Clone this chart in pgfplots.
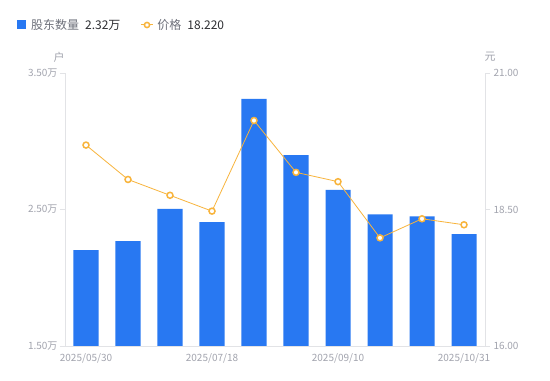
\documentclass[border=0pt]{standalone}
\usepackage{pgfplots}
\pgfplotsset{compat=1.18}
\usepackage{fontspec}
\setmainfont{Noto Sans CJK SC}
\definecolor{barblue}{HTML}{2878F2}
\definecolor{lineor}{HTML}{F8B43C}
\definecolor{axgray}{HTML}{E2E3E6}
\definecolor{lblgray}{HTML}{A2A4AE}
\definecolor{leggray}{HTML}{6E717B}
\definecolor{legdark}{HTML}{2E2F33}
\begin{document}
\begin{tikzpicture}
\path[use as bounding box, fill=white] (0,0) rectangle (550bp,381bp);
\begin{axis}[
  name=left,
  at={(65bp,35bp)}, anchor=south west, scale only axis,
  width=420bp, height=273bp,
  xmin=-0.5, xmax=9.5, ymin=1.5, ymax=3.5,
  axis x line*=bottom, axis y line*=left,
  axis line style={draw=axgray, line width=0.8bp, -},
  ytick={1.5,2.5,3.5}, yticklabels={1.50万,2.50万,3.50万},
  xtick={0,3,6,9}, xticklabels={2025/05/30,2025/07/18,2025/09/10,2025/10/31},
  x tick style={draw=none},
  y tick style={draw=axgray, line width=0.8bp},
  tick align=outside, major tick length=5bp,
  ticklabel style={font=\fontsize{10bp}{12bp}\selectfont, text=lblgray},
  yticklabel style={xshift=1bp},
  xticklabel style={yshift=1bp},
  legend style={at={(axis description cs:0,1)}, anchor=south west, xshift=-51bp, yshift=38bp,
    draw=none, fill=none, font=\fontsize{12bp}{14bp}\selectfont, legend columns=2,
    /tikz/every even column/.append style={column sep=18bp}},
  legend cell align=left,
]
\addplot[ybar, bar width=25bp, fill=barblue, draw=none,
  legend image code/.code={\fill[barblue] (0bp,-4.5bp) rectangle (9bp,4.5bp);}] coordinates {
  (0,2.203) (1,2.269) (2,2.504) (3,2.408) (4,3.310)
  (5,2.899) (6,2.643) (7,2.465) (8,2.450) (9,2.320)};
\addlegendentry{\hspace{3bp}\textcolor{leggray}{股东数量}\hspace{6bp}\textcolor{legdark}{2.32万}}
\addlegendimage{legend image code/.code={
  \draw[lineor, line width=1bp] (0bp,0bp) -- (12bp,0bp);
  \draw[lineor, line width=1.5bp, fill=white] (6bp,0bp) circle (2.6bp);}}
\addlegendentry{\hspace{2bp}\textcolor{leggray}{价格}\hspace{6bp}\textcolor{legdark}{18.220}}
\end{axis}
\begin{axis}[
  name=right,
  at={(65bp,35bp)}, anchor=south west, scale only axis,
  width=420bp, height=273bp,
  xmin=-0.5, xmax=9.5, ymin=16, ymax=21,
  axis x line=none, axis y line*=right,
  axis line style={draw=axgray, line width=0.8bp, -},
  ytick={16,18.5,21}, yticklabels={16.00,18.50,21.00},
  y tick style={draw=axgray, line width=0.8bp},
  tick align=outside, major tick length=5bp,
  ticklabel style={font=\fontsize{10bp}{12bp}\selectfont, text=lblgray},
]
\addplot[color=lineor, line width=0.8bp, mark=*, mark size=3bp,
  mark options={draw=lineor, fill=white, line width=1.5bp}] coordinates {
  (0,19.68) (1,19.05) (2,18.76) (3,18.47) (4,20.13)
  (5,19.18) (6,19.01) (7,17.98) (8,18.33) (9,18.22)};
\end{axis}
\node[font=\fontsize{11bp}{13bp}\selectfont, text=lblgray] at (59bp,324bp) {户};
\node[font=\fontsize{11bp}{13bp}\selectfont, text=lblgray] at (490bp,324bp) {元};
\end{tikzpicture}
\end{document}
